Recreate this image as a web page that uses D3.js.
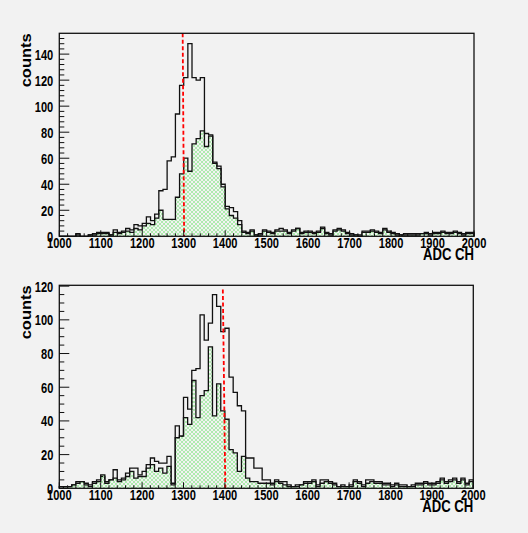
<!DOCTYPE html>
<html>
<head>
<meta charset="utf-8">
<script src="https://cdn.jsdelivr.net/npm/d3@7"></script>
<style>
  html, body { margin: 0; padding: 0; background: #f2f2f2; }
  svg { display: block; }
  text { font-family: "Liberation Sans", Arial, sans-serif; font-weight: bold; fill: #000; }
</style>
</head>
<body>
<svg id="chart" width="528" height="533"></svg>
<script>
// histogram binning: 100 bins of 10 ADC channels from 1000 to 2000
var binStart = 1000, binWidth = 10;

// upper pad
var topTotal = [0,0,0,0,2,0,0,1,2,3, 3,3,1,5,3,4,6,5,9,8, 10,15,12,17,35,36,58,61,94,116,
  122,148,122,120,122,79,78,57,54,40, 23,22,19,12,4,3,5,1,2,5, 4,3,5,6,5,3,5,6,3,4,
  4,3,4,7,3,2,5,6,5,3, 2,1,1,4,4,5,4,3,6,4, 3,2,1,2,2,2,2,2,3,2, 3,3,4,3,3,4,3,2,3,3];
var topGated = [0,0,0,0,1,0,0,1,1,2, 2,2,1,3,2,3,4,3,6,5, 8,10,9,14,20,13,13,13,30,48,
  60,50,71,75,81,69,77,56,52,38, 21,16,14,9,3,2,4,1,1,4, 3,2,4,4,4,2,4,6,2,3,
  3,2,3,6,2,1,4,5,4,2, 1,1,0,3,3,4,3,2,5,3, 2,1,1,1,1,1,1,2,2,1, 2,2,3,2,2,3,2,1,2,2];

// lower pad
var bottomTotal = [1,1,1,2,4,4,3,2,4,5, 7,4,5,11,5,6,9,12,12,8, 10,14,18,16,15,15,19,3,37,31,
  54,47,70,71,103,88,98,115,108,93, 95,66,57,49,46,18,18,12,12,5, 5,3,5,4,4,2,1,2,2,4,
  4,5,2,5,5,4,3,1,2,1, 2,5,4,2,5,5,4,4,3,3, 2,3,2,2,1,2,3,3,4,3, 3,4,6,4,5,6,4,6,3,5];
var bottomGated = [0,1,1,2,3,4,2,1,3,4, 8,3,5,6,4,5,7,10,6,7, 7,12,14,10,12,9,13,2,30,31,
  42,38,64,42,55,58,84,43,62,46, 41,23,21,10,19,6,4,4,3,3, 3,2,4,3,2,1,1,1,2,3,
  3,4,1,3,4,3,2,1,1,1, 1,4,3,1,3,4,3,3,2,2, 1,2,1,1,1,1,2,2,3,2, 2,3,5,3,4,5,3,5,2,4];

var xTicks = [1000,1100,1200,1300,1400,1500,1600,1700,1800,1900,2000];
var topYTicks = [0,20,40,60,80,100,120,140];
var bottomYTicks = [0,20,40,60,80,100,120];

// cut lines (red dashed): x at top, x at bottom, y reached
var topCut = [1297.5, 1301, 156];
var bottomCut = [1395, 1401, 118];

var svg = d3.select("#chart");
svg.append("rect").attr("width", 528).attr("height", 533).attr("fill", "#f2f2f2");

var defs = svg.append("defs");
var pat = defs.append("pattern").attr("id", "hatch")
  .attr("patternUnits", "userSpaceOnUse").attr("width", 4).attr("height", 4);
pat.append("path").attr("d", "M0,0L4,4M4,0L0,4M-1,3L1,5M3,-1L5,1M-1,1L1,-1M3,5L5,3")
  .attr("stroke", "#a6eaa6").attr("stroke-width", 0.9).attr("fill", "none");

var sx = 0.74; // narrow text

function drawPad(p){
  var g = svg.append("g");
  var x = d3.scaleLinear().domain([1000, 2000]).range([p.left, p.right]);
  var y = d3.scaleLinear().domain([0, p.ymax]).range([p.bottom, p.top]);

  function steps(vals){
    var pts = [[binStart, 0]];
    vals.forEach(function(v, i){
      pts.push([binStart + i*binWidth, v]);
      pts.push([binStart + (i+1)*binWidth, v]);
    });
    pts.push([binStart + vals.length*binWidth, 0]);
    return pts;
  }
  var line = d3.line().x(function(d){ return x(d[0]); }).y(function(d){ return y(d[1]); });

  // total histogram (outline only)
  g.append("path").attr("d", line(steps(p.total)))
    .attr("fill", "none").attr("stroke", "#111").attr("stroke-width", 1.3);
  // gated histogram, hatched
  g.append("path").attr("d", line(steps(p.gated)))
    .attr("fill", "url(#hatch)").attr("stroke", "#111").attr("stroke-width", 1.3);

  // cut line
  g.append("line")
    .attr("x1", x(p.cut[0])).attr("y1", y(p.cut[2]))
    .attr("x2", x(p.cut[1])).attr("y2", y(0))
    .attr("stroke", "#ff0000").attr("stroke-width", 1.8).attr("stroke-dasharray", "4,2.5");

  // frame
  g.append("rect").attr("x", p.left).attr("y", p.top)
    .attr("width", p.right - p.left).attr("height", p.bottom - p.top)
    .attr("fill", "none").attr("stroke", "#111").attr("stroke-width", 1.3);

  // x ticks (inside, pointing up)
  var xMinor = d3.range(1000, 2001, 20);
  g.selectAll(".xmin").data(xMinor).enter().append("line")
    .attr("x1", function(d){ return x(d); }).attr("x2", function(d){ return x(d); })
    .attr("y1", p.bottom).attr("y2", function(d){ return p.bottom - (d % 100 === 0 ? 6 : 3); })
    .attr("stroke", "#111").attr("stroke-width", 1);
  g.selectAll(".xlab").data(xTicks).enter().append("text")
    .attr("transform", function(d){ return "translate(" + x(d) + "," + (p.bottom + 12) + ") scale(" + sx + ",1)"; })
    .attr("text-anchor", "middle").attr("font-size", 15).text(function(d){ return d; });

  // y ticks (inside, pointing right)
  var yMinor = d3.range(0, p.ymax, p.minorStep);
  g.selectAll(".ymin").data(yMinor).enter().append("line")
    .attr("x1", p.left).attr("x2", function(d){ return p.left + (d % 20 === 0 ? 10 : 5); })
    .attr("y1", function(d){ return y(d); }).attr("y2", function(d){ return y(d); })
    .attr("stroke", "#111").attr("stroke-width", 1);
  g.selectAll(".ylab").data(p.yTicks).enter().append("text")
    .attr("transform", function(d){ return "translate(" + (p.left - 6) + "," + (y(d) + 5.5) + ") scale(" + sx + ",1)"; })
    .attr("text-anchor", "end").attr("font-size", 15).text(function(d){ return d; });

  // axis titles
  g.append("text")
    .attr("transform", "translate(" + (p.left - 28) + "," + p.top + ") scale(0.9,1) rotate(-90)")
    .attr("text-anchor", "end").attr("font-size", 16.5).text("counts");
  g.append("text")
    .attr("transform", "translate(" + p.right + "," + (p.bottom + 24) + ") scale(0.82,1)")
    .attr("text-anchor", "end").attr("font-size", 16).text("ADC CH");
}

drawPad({left: 59.3, right: 474, top: 33.3, bottom: 236.3, ymax: 156, minorStep: 4,
  yTicks: topYTicks, total: topTotal, gated: topGated, cut: topCut});
drawPad({left: 59.3, right: 473.3, top: 285.3, bottom: 488.3, ymax: 120.5, minorStep: 5,
  yTicks: bottomYTicks, total: bottomTotal, gated: bottomGated, cut: bottomCut});
</script>
</body>
</html>
